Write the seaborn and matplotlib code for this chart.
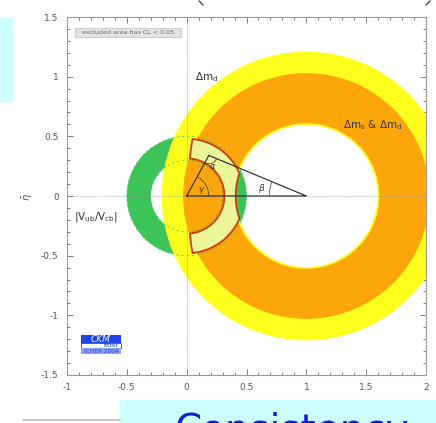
import numpy as np
import matplotlib
matplotlib.use("Agg")
import matplotlib.pyplot as plt
from matplotlib.patches import Wedge, Circle, Rectangle, Arc
from matplotlib.lines import Line2D
from matplotlib.ticker import MultipleLocator
import seaborn as sns

# --- constraint bands in the (rho-bar, eta-bar) plane ---
dm_center = [1.0, 0.0]            # Delta m bands are circles around (1, 0)
dmd_radii = [0.595, 1.21]         # Delta m_d alone
dms_dmd_radii = [0.61, 1.03]      # Delta m_s & Delta m_d
vub_center = [0.0, 0.0]           # |Vub/Vcb| circles around (0, 0)
vub_radii = [0.30, 0.50]
# global fit region
fit_vub_radii = [0.315, 0.48]
fit_inner_center = [1.0, 0.0]
fit_inner_radius = 0.59
fit_outer_center = [3.0, 0.0]
fit_outer_radius = 2.99

# unitarity triangle
tri_rho = [0.0, 1.0, 0.185, 0.0]
tri_eta = [0.0, 0.0, 0.34, 0.0]

xticks = [-1, -0.5, 0, 0.5, 1, 1.5, 2]
xtick_labels = ["-1", "-0.5", "0", "0.5", "1", "1.5", "2"]
yticks = [-1.5, -1, -0.5, 0, 0.5, 1, 1.5]
ytick_labels = ["-1.5", "-1", "-0.5", "0", "0.5", "1", "1.5"]

YELLOW = "#ffff1e"
ORANGE = "#fca60c"
GREEN = "#3dc459"
FIT_FILL = "#edf59a"
FIT_EDGE = "#c83a0c"
GREY = "#555555"

sns.set_style("ticks")
plt.rcParams["font.family"] = ["DejaVu Sans"]

fig = plt.figure(figsize=(4.36, 4.23), dpi=100)
ax = fig.add_axes([67 / 436, 1 - 375 / 423, 359 / 436, 358 / 423])
ax.set_xlim(-1, 2)
ax.set_ylim(-1.5, 1.5)

# |Vub/Vcb| ring (underneath the Delta m bands)
ax.add_patch(Wedge(vub_center, vub_radii[1], 0, 360,
                   width=vub_radii[1] - vub_radii[0], facecolor=GREEN,
                   edgecolor="none", zorder=1))
# Delta m_d and Delta m_s & Delta m_d rings
ax.add_patch(Wedge(dm_center, dmd_radii[1], 0, 360,
                   width=dmd_radii[1] - dmd_radii[0], facecolor=YELLOW,
                   edgecolor="none", zorder=2))
ax.add_patch(Wedge(dm_center, dms_dmd_radii[1], 0, 360,
                   width=dms_dmd_radii[1] - dms_dmd_radii[0], facecolor=ORANGE,
                   edgecolor="none", zorder=3))
# dashed outline of the |Vub/Vcb| ring seen through the other bands
for r in vub_radii:
    ax.add_patch(Circle(vub_center, r, fill=False, edgecolor=GREEN, lw=0.6,
                        ls=(0, (3, 3)), alpha=0.8, zorder=4))

# global fit region: intersection of both constraints
gx = np.linspace(-0.1, 0.6, 900)
gy = np.linspace(-0.6, 0.6, 1200)
X, Y = np.meshgrid(gx, gy)
r0 = np.hypot(X - vub_center[0], Y - vub_center[1])
r_in = np.hypot(X - fit_inner_center[0], Y - fit_inner_center[1])
r_out = np.hypot(X - fit_outer_center[0], Y - fit_outer_center[1])
f = np.minimum.reduce([r0 - fit_vub_radii[0], fit_vub_radii[1] - r0,
                       r_in - fit_inner_radius, fit_outer_radius - r_out])
ax.contourf(X, Y, f, levels=[0, 10], colors=[FIT_FILL], zorder=5)
ax.contour(X, Y, f, levels=[0], colors=[FIT_EDGE], linewidths=1.3, zorder=6)

# reference axes
ax.axhline(0, color="#999999", lw=0.5, ls=(0, (1, 1)), zorder=6)
ax.axvline(0, color="#999999", lw=0.5, ls=(0, (1, 1)), zorder=6)

# unitarity triangle
sns.lineplot(x=tri_rho, y=tri_eta, sort=False, estimator=None, color="#222222",
             lw=0.8, ax=ax, zorder=7)

# angle arcs and labels
gamma_deg = np.degrees(np.arctan2(tri_eta[2], tri_rho[2]))
beta_deg = np.degrees(np.arctan2(tri_eta[2], tri_rho[2] - 1.0))
ax.add_patch(Arc((0, 0), 0.37, 0.37, theta1=0, theta2=gamma_deg,
                 color="#333333", lw=0.5, zorder=7))
ax.add_patch(Arc((1, 0), 0.62, 0.62, theta1=beta_deg, theta2=180,
                 color="#333333", lw=0.5, zorder=7))
ax.add_patch(Arc((tri_rho[2], tri_eta[2]), 0.14, 0.14,
                 theta1=180 + gamma_deg, theta2=360 + beta_deg - 180,
                 color="#333333", lw=0.5, zorder=7))
ax.text(0.123, 0.05, r"$\gamma$", fontsize=6, color="#333333", ha="center",
        va="center", zorder=8)
ax.text(0.215, 0.245, r"$\alpha$", fontsize=6, color="#333333", ha="center",
        va="center", zorder=8)
ax.text(0.625, 0.06, r"$\beta$", fontsize=6.5, color="#333333", ha="center",
        va="center", zorder=8)

# band labels
ax.text(0.07, 1.0, r"$\Delta\mathrm{m_d}$", fontsize=7.5, color="#333333",
        ha="left", va="center", zorder=8)
ax.text(1.31, 0.59, r"$\Delta\mathrm{m_s}$ & $\Delta\mathrm{m_d}$", fontsize=7.5,
        color="#333333", ha="left", va="center", zorder=8)
ax.text(-0.94, -0.18, r"$|\mathrm{V_{ub}/V_{cb}}|$", fontsize=7.5,
        color="#333333", ha="left", va="center", zorder=8)

# exclusion note
ax.add_patch(Rectangle((-0.937, 1.331), 0.887, 0.075, facecolor="#e4e4e4",
                       edgecolor="#bbbbbb", lw=0.5, zorder=8))
ax.text(-0.493, 1.369, "excluded area has CL < 0.05", fontsize=4.6,
        color="#666666", ha="center", va="center", zorder=9)

# CKMfitter badge
ax.add_patch(Rectangle((-0.881, -1.233), 0.33, 0.07, facecolor="#1d44e6",
                       edgecolor="none", zorder=8))
ax.text(-0.716, -1.199, "CKM", fontsize=6.5, style="italic", color="white",
        ha="center", va="center", zorder=9)
ax.add_patch(Rectangle((-0.881, -1.275), 0.33, 0.042, facecolor="white",
                       edgecolor="#1d44e6", lw=0.6, zorder=8))
ax.text(-0.565, -1.254, "fitter", fontsize=4.5, color="#1d44e6",
        ha="right", va="center", zorder=9)
ax.add_patch(Rectangle((-0.881, -1.325), 0.33, 0.05, facecolor="#8da2f2",
                       edgecolor="none", zorder=8))
ax.text(-0.716, -1.300, "ICHEP 2004", fontsize=4.3, color="#2447d8",
        ha="center", va="center", zorder=9)

# ticks and frame
ax.set_xticks(xticks)
ax.set_xticklabels(xtick_labels)
ax.set_yticks(yticks)
ax.set_yticklabels(ytick_labels)
ax.xaxis.set_minor_locator(MultipleLocator(0.1))
ax.yaxis.set_minor_locator(MultipleLocator(0.1))
ax.tick_params(which="both", direction="in", top=True, right=True,
               color="#666666", width=0.6, labelsize=6.5, labelcolor="#555555")
ax.tick_params(which="major", length=4, pad=6)
ax.tick_params(which="minor", length=2)
for s in ax.spines.values():
    s.set_color("#999999")
    s.set_linewidth(0.8)
ax.set_xlabel("")
ax.set_ylabel("")

fig.text(28 / 436, 1 - 197 / 423, r"$\bar{\eta}$", rotation=90, fontsize=7,
         color=GREY, ha="center", va="center")

# surrounding slide elements
fig.patches.append(Rectangle((0, 1 - 102 / 423), 13 / 436, 84 / 423,
                             transform=fig.transFigure, facecolor="#ccffff",
                             edgecolor="none"))
fig.patches.append(Rectangle((120 / 436, 0), 316 / 436, 23 / 423,
                             transform=fig.transFigure, facecolor="#ccffff",
                             edgecolor="none"))
fig.add_artist(Line2D([23 / 436, 120 / 436], [3 / 423, 3 / 423],
                      transform=fig.transFigure, color="#bbbbbb", lw=1.2))
fig.add_artist(Line2D([199 / 436, 203 / 436], [1 - 1 / 423, 1 - 5 / 423],
                      transform=fig.transFigure, color="#444444", lw=1.0))
fig.add_artist(Line2D([426 / 436, 430 / 436], [1 - 5 / 423, 1 - 1 / 423],
                      transform=fig.transFigure, color="#444444", lw=1.0))
fig.text(175 / 436, 1 - 412 / 423, "Consistency", fontsize=28,
         color="#0a1ee0", ha="left", va="top")

fig.savefig("out.png", dpi=100)
